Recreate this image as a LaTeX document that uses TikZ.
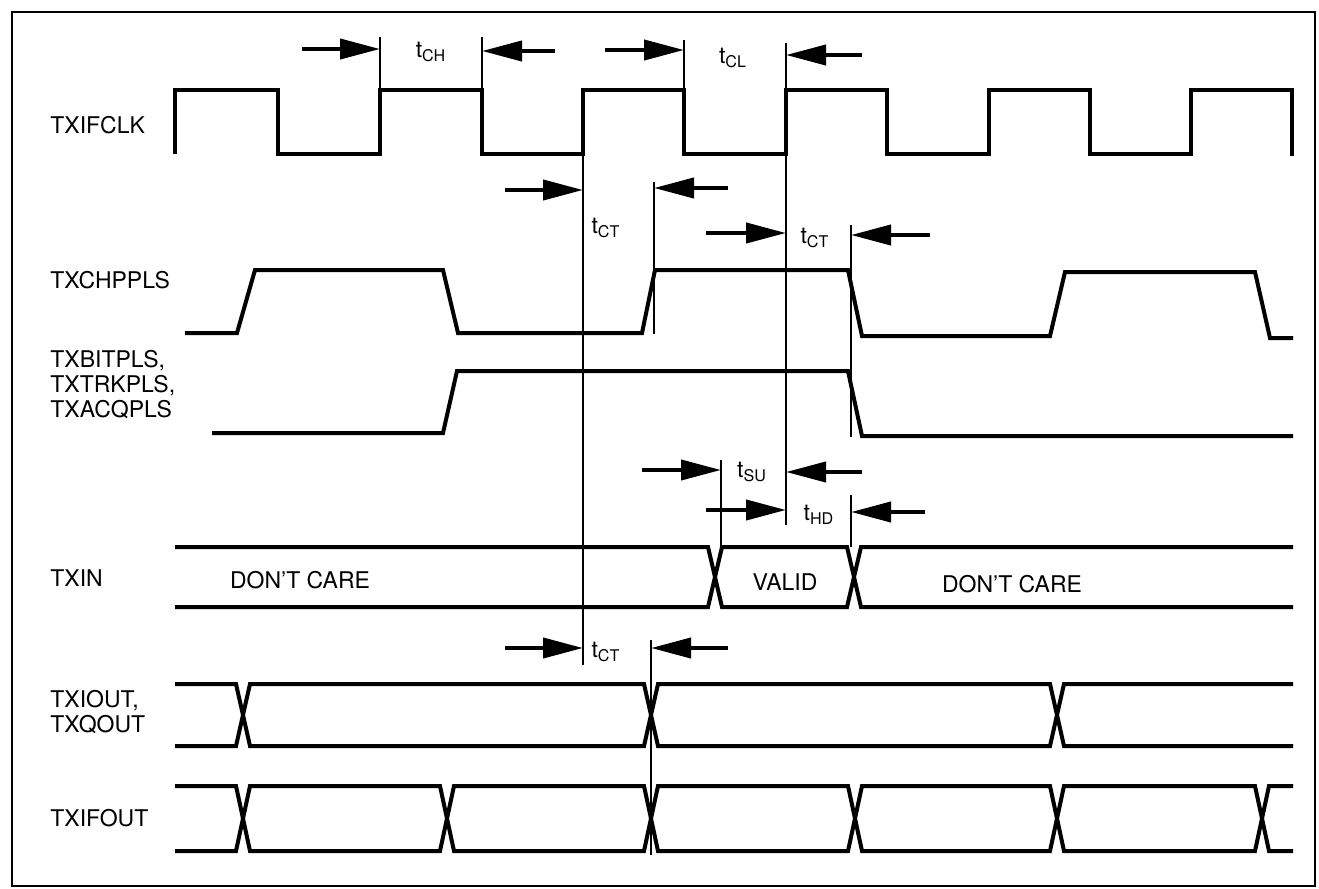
\documentclass[tikz,border=0pt]{standalone}
\usepackage{fontspec}
\setmainfont{TeX Gyre Heros}
\usetikzlibrary{arrows.meta}
\begin{document}
\begin{tikzpicture}[x=0.5pt,y=-0.5pt,
  sig/.style={line width=2pt},
  tick/.style={line width=0.9pt},
  dim/.style={line width=2pt,-{Triangle[length=20pt,width=10pt]}},
  lbl/.style={anchor=west,align=left,inner sep=0pt,font=\fontsize{11.5}{12.5}\selectfont},
  tm/.style={inner sep=0pt,font=\fontsize{11.5}{12}\selectfont}]
  \useasboundingbox (0,0) rectangle (1319,889);
  \draw[line width=1.2pt] (12,12) rectangle (1315,886);
  % signal names
  \node[lbl] (clk) at (50,125) {TXIFCLK};
  \node[lbl] (chp) at (50,280) {TXCHPPLS};
  \node[lbl] (bit) at (50,385) {TXBITPLS,\\TXTRKPLS,\\TXACQPLS};
  \node[lbl] (txin) at (50,578) {TXIN};
  \node[lbl] (iout) at (50,712) {TXIOUT,\\TXQOUT};
  \node[lbl] (fout) at (50,818) {TXIFOUT};
  % TXIFCLK
  \draw[sig] (175,154) -- (175,90) -- (278,90) -- (278,154) -- (380,154) -- (380,90)
    -- (482,90) -- (482,154) -- (583,154) -- (583,90) -- (684,90) -- (684,154)
    -- (786,154) -- (786,90) -- (887,90) -- (887,154) -- (989,154) -- (989,90)
    -- (1090,90) -- (1090,154) -- (1191,154) -- (1191,90) -- (1292,90) -- (1292,156);
  % TXCHPPLS
  \draw[sig] (185,333) -- (237,333) -- (255,270) -- (443,270) -- (458,333) -- (642,333)
    -- (655,270) -- (848,270) -- (862,336) -- (1050,336) -- (1065,272) -- (1255,272)
    -- (1270,338) -- (1293,338);
  % TXBITPLS, TXTRKPLS, TXACQPLS
  \draw[sig] (212,433) -- (443,433) -- (457,371) -- (848,371) -- (862,436) -- (1293,436);
  % TXIN
  \draw[sig] (175,547) -- (708,547) -- (722,607) -- (847,607) -- (861,547) -- (1293,547);
  \draw[sig] (175,607) -- (708,607) -- (722,547) -- (847,547) -- (861,607) -- (1293,607);
  \node[tm] (dc1) at (300,580) {DON'T CARE};
  \node[tm] (val) at (785,582) {VALID};
  \node[tm] (dc2) at (1012,584) {DON'T CARE};
  % TXIOUT, TXQOUT
  \draw[sig] (175,684) -- (236,684) -- (250,746) -- (644,746) -- (658,684) -- (1050,684)
    -- (1064,746) -- (1293,746);
  \draw[sig] (175,746) -- (236,746) -- (250,684) -- (644,684) -- (658,746) -- (1050,746)
    -- (1064,684) -- (1293,684);
  % TXIFOUT
  \draw[sig] (175,786) -- (236,786) -- (250,851) -- (440,851) -- (454,786) -- (644,786)
    -- (658,851) -- (848,851) -- (862,786) -- (1050,786) -- (1064,851) -- (1255,851)
    -- (1269,786) -- (1293,786);
  \draw[sig] (175,851) -- (236,851) -- (250,786) -- (440,786) -- (454,851) -- (644,851)
    -- (658,786) -- (848,786) -- (862,851) -- (1050,851) -- (1064,786) -- (1255,786)
    -- (1269,851) -- (1293,851);
  % reference lines
  \draw[tick] (380,37) -- (380,90);
  \draw[tick] (482,37) -- (482,90);
  \draw[tick] (684,40) -- (684,90);
  \draw[tick] (786,43) -- (786,525);
  \draw[tick] (583,90) -- (583,665);
  \draw[tick] (654,182) -- (654,334);
  \draw[tick] (851,225) -- (851,437);
  \draw[tick] (721,460) -- (721,547);
  \draw[tick] (851,495) -- (851,547);
  \draw[tick] (651,640) -- (651,855);
  % tCH
  \coordinate (ch1) at (380,49);
  \coordinate (ch2) at (482,51);
  \draw[dim] (302,49) -- (ch1);
  \draw[dim] (555,51) -- (ch2);
  \node[tm] (tch) at (431,52) {t\textsubscript{CH}};
  % tCL
  \coordinate (cl1) at (684,50);
  \coordinate (cl2) at (786,55);
  \draw[dim] (605,50) -- (cl1);
  \draw[dim] (862,55) -- (cl2);
  \node[tm] (tcl) at (733,58) {t\textsubscript{CL}};
  % tCT, clock to pulse
  \coordinate (ct1) at (583,190);
  \coordinate (ct2) at (654,188);
  \draw[dim] (505,190) -- (ct1);
  \draw[dim] (728,188) -- (ct2);
  \node[tm] (tct1) at (606,228) {t\textsubscript{CT}};
  % tCT, clock to pulse end
  \coordinate (ct3) at (786,233);
  \coordinate (ct4) at (851,235);
  \draw[dim] (706,233) -- (ct3);
  \draw[dim] (930,235) -- (ct4);
  \node[tm] (tct2) at (815,238) {t\textsubscript{CT}};
  % tSU
  \coordinate (su1) at (721,470);
  \coordinate (su2) at (786,472);
  \draw[dim] (642,470) -- (su1);
  \draw[dim] (862,472) -- (su2);
  \node[tm] (tsu) at (752,472) {t\textsubscript{SU}};
  % tHD
  \coordinate (hd1) at (786,510);
  \coordinate (hd2) at (851,512);
  \draw[dim] (706,510) -- (hd1);
  \draw[dim] (925,512) -- (hd2);
  \node[tm] (thd) at (819,515) {t\textsubscript{HD}};
  % tCT, clock to output
  \coordinate (ct5) at (583,648);
  \coordinate (ct6) at (651,648);
  \draw[dim] (505,648) -- (ct5);
  \draw[dim] (728,648) -- (ct6);
  \node[tm] (tct3) at (606,652) {t\textsubscript{CT}};
\end{tikzpicture}
\end{document}
